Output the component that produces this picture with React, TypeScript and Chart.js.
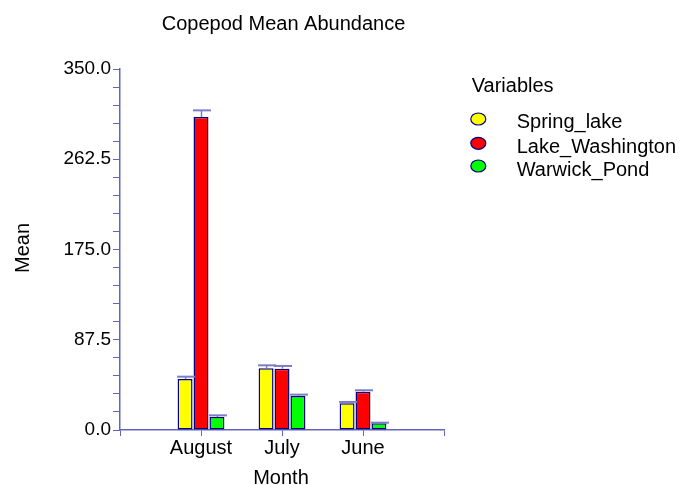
import React, { useEffect, useRef } from "react";
import { Chart, registerables } from "chart.js";

Chart.register(...registerables);

const months = ["August", "July", "June"];
const seriesNames = ["Spring_lake", "Lake_Washington", "Warwick_Pond"];
const springLake = [49.5, 59.8, 25.9];
const lakeWashington = [303.4, 59.5, 37.2];
const warwickPond = [12.6, 33.0, 6.5];
const springLakeErr = [2.2, 2.9, 1.3];
const lakeWashingtonErr = [6.5, 2.6, 1.3];
const warwickPondErr = [1.6, 1.3, 0.6];
const seriesColors = ["#ffff00", "#ff0000", "#00ff00"];
const yMax = 350;
const yMinorStep = 17.5;
const yMajorStep = 87.5;

const FONT = "'Liberation Sans', Arial, sans-serif";
const AXIS_COLOR = "#6464be";
const ERR_COLOR = "#7c7cc8";
const BORDER = "#000080";

export default function App() {
  const ref = useRef<HTMLCanvasElement | null>(null);

  useEffect(() => {
    if (!ref.current) return;
    const labels = ["", ...months, " "];
    const values = [springLake, lakeWashington, warwickPond];
    const errs = [springLakeErr, lakeWashingtonErr, warwickPondErr];

    const datasets = values.map((vals, i) => ({
      label: seriesNames[i],
      data: [null, ...vals, null],
      backgroundColor: seriesColors[i],
      borderColor: BORDER,
      borderWidth: 1.5,
      borderSkipped: false as any,
      categoryPercentage: 0.59,
      barPercentage: 0.94,
    }));

    const decorPlugin = {
      id: "decor",
      afterDatasetsDraw(chart: any) {
        const ctx = chart.ctx;
        const yScale = chart.scales.y;
        ctx.save();
        ctx.strokeStyle = ERR_COLOR;
        datasets.forEach((_, i) => {
          const meta = chart.getDatasetMeta(i);
          meta.data.forEach((el: any, j: number) => {
            const idx = j - 1;
            if (idx < 0 || idx >= months.length) return;
            const v = values[i][idx];
            const e = errs[i][idx];
            const yTop = yScale.getPixelForValue(v);
            const yErr = yScale.getPixelForValue(v + e);
            const x = el.x + 0.5;
            ctx.lineWidth = 1.5;
            ctx.beginPath();
            ctx.moveTo(x, yTop);
            ctx.lineTo(x, yErr);
            ctx.stroke();
            ctx.lineWidth = 2;
            ctx.beginPath();
            ctx.moveTo(el.x - 8, yErr);
            ctx.lineTo(el.x + 10, yErr);
            ctx.stroke();
          });
        });
        ctx.restore();
      },
      afterDraw(chart: any) {
        const ctx = chart.ctx;
        ctx.save();
        ctx.fillStyle = "#000";
        ctx.font = `20px ${FONT}`;
        ctx.textAlign = "center";
        ctx.textBaseline = "alphabetic";
        ctx.fillText("Copepod Mean Abundance", 283.5, 29.5);
        ctx.fillText("Month", 281, 483.5);
        ctx.save();
        ctx.translate(28.5, 248);
        ctx.rotate(-Math.PI / 2);
        ctx.fillText("Mean", 0, 0);
        ctx.restore();
        ctx.textAlign = "left";
        ctx.fillText("Variables", 471.7, 91.7);
        const textY = [127.7, 152.5, 176];
        const circY = [119, 143.3, 166];
        seriesNames.forEach((name, i) => {
          ctx.beginPath();
          ctx.ellipse(478.3, circY[i], 7.5, 6, 0, 0, Math.PI * 2);
          ctx.fillStyle = seriesColors[i];
          ctx.fill();
          ctx.lineWidth = 1.2;
          ctx.strokeStyle = BORDER;
          ctx.stroke();
          ctx.fillStyle = "#000";
          ctx.fillText(name, 516.7, textY[i]);
        });
        ctx.restore();
      },
    };

    const chart = new Chart(ref.current, {
      type: "bar",
      data: { labels, datasets: datasets as any },
      options: {
        responsive: false,
        animation: false,
        devicePixelRatio: 1,
        layout: { padding: { top: 69, right: 237, bottom: 0, left: 0 } },
        plugins: {
          legend: { display: false },
          title: { display: false },
          tooltip: { enabled: false },
        },
        scales: {
          x: {
            type: "category",
            offset: false,
            grid: {
              offset: false,
              drawOnChartArea: false,
              drawTicks: true,
              tickLength: 6,
              color: AXIS_COLOR,
            },
            border: { color: AXIS_COLOR, width: 1.5 },
            ticks: {
              color: "#000",
              font: { family: FONT, size: 20 },
              padding: 0,
              maxRotation: 0,
              autoSkip: false,
            },
            afterFit(scale: any) {
              scale.height = 55;
            },
          },
          y: {
            type: "linear",
            min: 0,
            max: yMax,
            grid: {
              drawOnChartArea: false,
              drawTicks: true,
              tickLength: 7,
              color: AXIS_COLOR,
            },
            border: { color: AXIS_COLOR, width: 1.5 },
            ticks: {
              stepSize: yMinorStep,
              autoSkip: false,
              color: "#000",
              padding: 2,
              font: { family: FONT, size: 19 },
              callback: (v: any) => {
                const n = Number(v);
                const r = n / yMajorStep;
                return Math.abs(r - Math.round(r)) < 1e-6 ? n.toFixed(1) : "";
              },
            },
            afterFit(scale: any) {
              scale.width = 120;
            },
          },
        },
      },
      plugins: [decorPlugin],
    });
    return () => chart.destroy();
  }, []);

  return (
    <div style={{ position: "fixed", left: 0, top: 0, width: 681, height: 485, background: "#fff" }}>
      <canvas ref={ref} width={681} height={485} style={{ display: "block", width: 681, height: 485 }} />
    </div>
  );
}
